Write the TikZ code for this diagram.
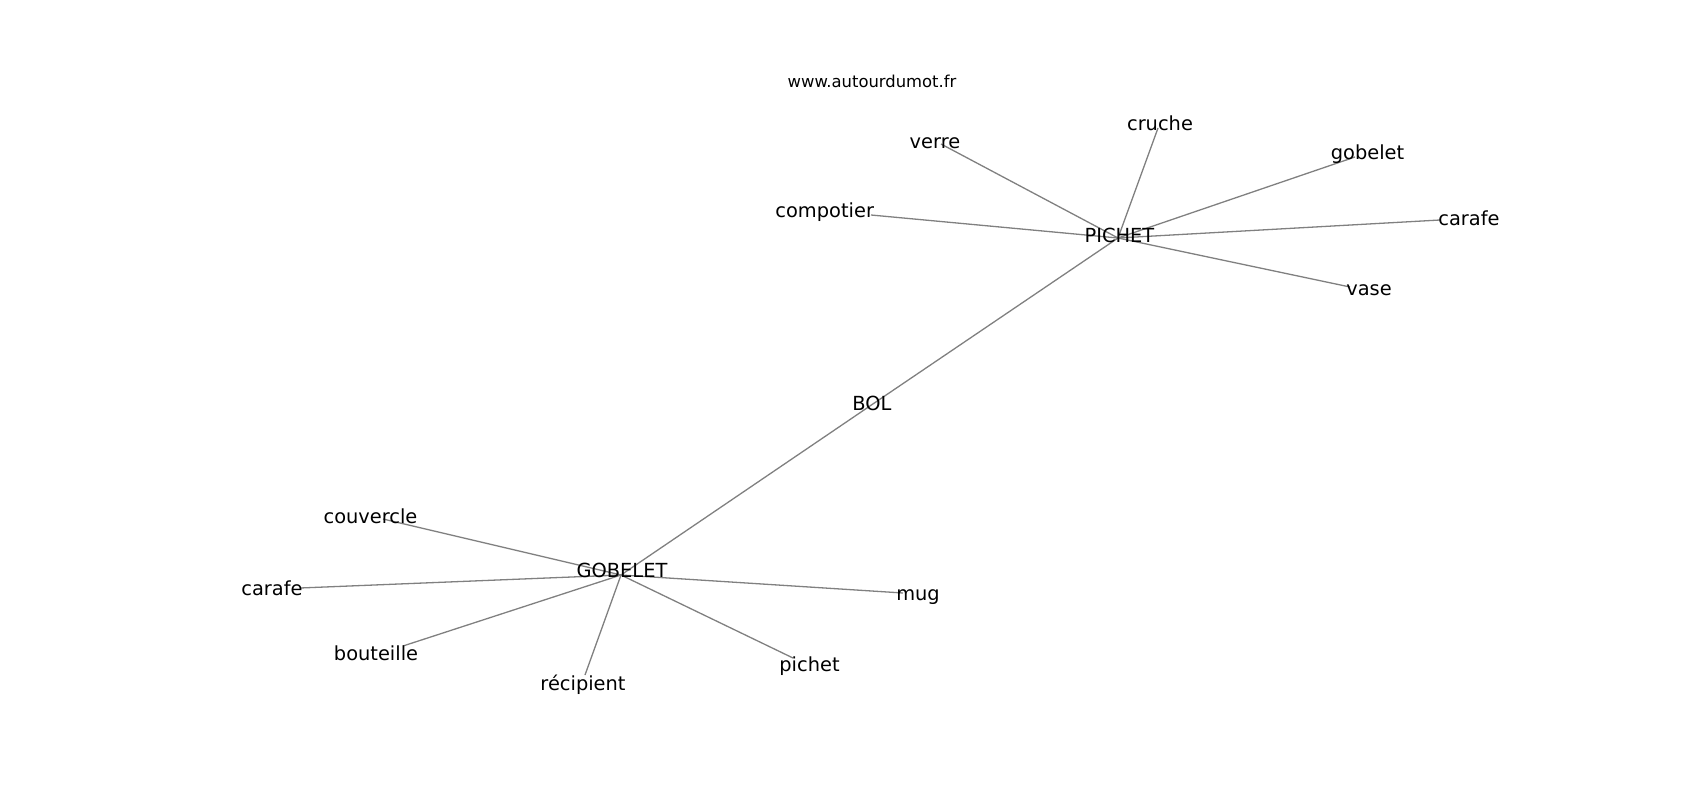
\documentclass[tikz,border=0pt]{standalone}
\usepackage{fontspec}
\setmainfont{DejaVu Sans}
\definecolor{edgegray}{RGB}{128,128,128}
\begin{document}
\begin{tikzpicture}[x=1pt,y=-1pt,
  edge/.style={draw=edgegray,line width=1.3pt},
  lbl/.style={anchor=base,inner sep=0pt,font=\fontsize{19.4}{23}\selectfont},
  title/.style={anchor=base,inner sep=0pt,font=\fontsize{16.4}{19}\selectfont}]
\useasboundingbox (0,0) rectangle (1700,800);
% node positions
\coordinate (PICHET) at (1118,238);
\coordinate (BOL) at (864,410);
\coordinate (GOBELET) at (621,575);
\coordinate (verre) at (941,144);
\coordinate (cruche) at (1158,128);
\coordinate (gobelet) at (1355,157);
\coordinate (compotier) at (871,215);
\coordinate (carafeA) at (1440,220);
\coordinate (vase) at (1350,287);
\coordinate (couvercle) at (383,519);
\coordinate (carafeB) at (300,588);
\coordinate (bouteille) at (403,646);
\coordinate (recipient) at (585,675);
\coordinate (pichet) at (793,658);
\coordinate (mug) at (903,593);
% edges
\foreach \n in {verre,cruche,gobelet,compotier,carafeA,vase,BOL}
  \draw[edge] (PICHET) -- (\n);
\foreach \n in {couvercle,carafeB,bouteille,recipient,pichet,mug,BOL}
  \draw[edge] (GOBELET) -- (\n);
% labels
\node[title] (www) at (872,88) {www.autourdumot.fr};
\node[lbl] (PICHETl) at (1119.5,242) {PICHET};
\node[lbl] (BOLl) at (872,410.7) {BOL};
\node[lbl] (GOBELETl) at (622,577.3) {GOBELET};
\node[lbl] (verrel) at (935,148.3) {verre};
\node[lbl] (cruchel) at (1160,130) {cruche};
\node[lbl] (gobeletl) at (1367.5,159.3) {gobelet};
\node[lbl] (compotierl) at (824.7,217) {compotier};
\node[lbl] (carafeAl) at (1469,225) {carafe};
\node[lbl] (vasel) at (1369,295.7) {vase};
\node[lbl] (couverclel) at (370.5,523.3) {couvercle};
\node[lbl] (carafeBl) at (272,595) {carafe};
\node[lbl] (bouteillel) at (376,660.7) {bouteille};
\node[lbl] (recipientl) at (583,690) {récipient};
\node[lbl] (pichetl) at (809.5,671.7) {pichet};
\node[lbl] (mugl) at (918,600) {mug};
\end{tikzpicture}
\end{document}
